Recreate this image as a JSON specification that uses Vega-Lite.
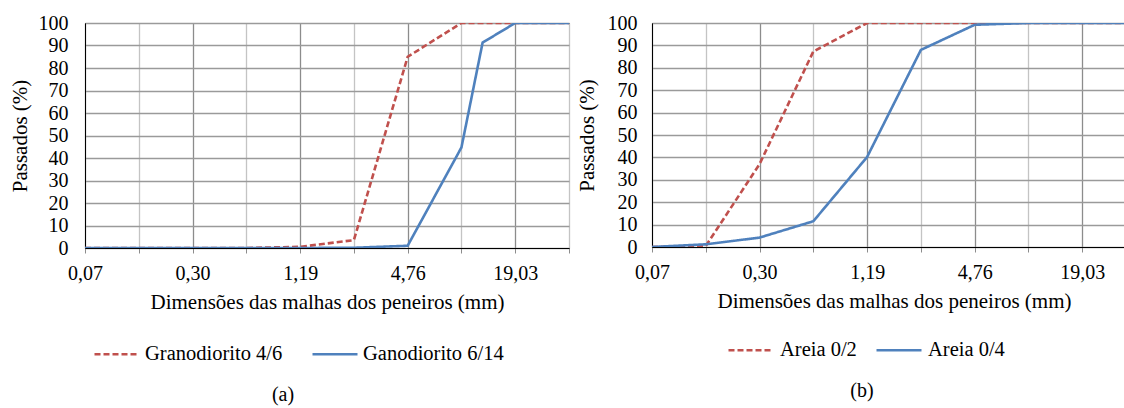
{
  "$schema": "https://vega.github.io/schema/vega-lite/v6.json",
  "padding": {"left": 8, "top": 12, "right": 0, "bottom": 0},
  "spacing": 5,
  "background": "white",
  "config": {
    "view": {"stroke": "black", "strokeWidth": 1},
    "font": "Liberation Serif",
    "style": {"guide-label": {"font": "Liberation Serif", "fill": "black"}, "guide-title": {"font": "Liberation Serif", "fill": "black"}},
    "legend": {"labelFont": "Liberation Serif", "labelFontSize": 20.5, "labelColor": "black", "labelLimit": 0},
    "title": {"font": "Liberation Serif", "fontSize": 20, "fontWeight": "normal", "color": "black"}
  },
  "data": {"values": [
    {"panel": "a", "series": "Granodiorito 4/6", "d": 0.0743, "p": 0},
    {"panel": "a", "series": "Granodiorito 4/6", "d": 0.1487, "p": 0},
    {"panel": "a", "series": "Granodiorito 4/6", "d": 0.2973, "p": 0},
    {"panel": "a", "series": "Granodiorito 4/6", "d": 0.5946, "p": 0},
    {"panel": "a", "series": "Granodiorito 4/6", "d": 1.1893, "p": 0.5},
    {"panel": "a", "series": "Granodiorito 4/6", "d": 2.3786, "p": 3.5},
    {"panel": "a", "series": "Granodiorito 4/6", "d": 4.7572, "p": 85},
    {"panel": "a", "series": "Granodiorito 4/6", "d": 9.5144, "p": 100},
    {"panel": "a", "series": "Granodiorito 4/6", "d": 19.0288, "p": 100},
    {"panel": "a", "series": "Granodiorito 4/6", "d": 38.0576, "p": 100},
    {"panel": "a", "series": "Ganodiorito 6/14", "d": 0.0743, "p": 0},
    {"panel": "a", "series": "Ganodiorito 6/14", "d": 0.1487, "p": 0},
    {"panel": "a", "series": "Ganodiorito 6/14", "d": 0.2973, "p": 0},
    {"panel": "a", "series": "Ganodiorito 6/14", "d": 0.5946, "p": 0},
    {"panel": "a", "series": "Ganodiorito 6/14", "d": 1.1893, "p": 0},
    {"panel": "a", "series": "Ganodiorito 6/14", "d": 2.3786, "p": 0.1},
    {"panel": "a", "series": "Ganodiorito 6/14", "d": 4.7572, "p": 1.0},
    {"panel": "a", "series": "Ganodiorito 6/14", "d": 9.5144, "p": 44.7},
    {"panel": "a", "series": "Ganodiorito 6/14", "d": 12.5, "p": 91.3},
    {"panel": "a", "series": "Ganodiorito 6/14", "d": 19.0288, "p": 100},
    {"panel": "a", "series": "Ganodiorito 6/14", "d": 38.0576, "p": 100},
    {"panel": "b", "series": "Areia 0/2", "d": 0.0743, "p": 0},
    {"panel": "b", "series": "Areia 0/2", "d": 0.1487, "p": 0.5},
    {"panel": "b", "series": "Areia 0/2", "d": 0.2973, "p": 37},
    {"panel": "b", "series": "Areia 0/2", "d": 0.5946, "p": 87.3},
    {"panel": "b", "series": "Areia 0/2", "d": 1.1893, "p": 100},
    {"panel": "b", "series": "Areia 0/2", "d": 2.3786, "p": 100},
    {"panel": "b", "series": "Areia 0/2", "d": 4.7572, "p": 100},
    {"panel": "b", "series": "Areia 0/2", "d": 9.5144, "p": 100},
    {"panel": "b", "series": "Areia 0/2", "d": 19.0288, "p": 100},
    {"panel": "b", "series": "Areia 0/2", "d": 38.0576, "p": 100},
    {"panel": "b", "series": "Areia 0/4", "d": 0.0743, "p": 0},
    {"panel": "b", "series": "Areia 0/4", "d": 0.1487, "p": 1.2},
    {"panel": "b", "series": "Areia 0/4", "d": 0.2973, "p": 4.2},
    {"panel": "b", "series": "Areia 0/4", "d": 0.5946, "p": 11.5},
    {"panel": "b", "series": "Areia 0/4", "d": 1.1893, "p": 40.2},
    {"panel": "b", "series": "Areia 0/4", "d": 2.3786, "p": 88},
    {"panel": "b", "series": "Areia 0/4", "d": 4.7572, "p": 99.2},
    {"panel": "b", "series": "Areia 0/4", "d": 9.5144, "p": 100},
    {"panel": "b", "series": "Areia 0/4", "d": 19.0288, "p": 100},
    {"panel": "b", "series": "Areia 0/4", "d": 38.0576, "p": 100}
  ]},
  "resolve": {
    "scale": {"x": "independent", "y": "independent", "color": "independent", "strokeDash": "independent"},
    "legend": {"color": "independent", "strokeDash": "independent"}
  },
  "hconcat": [
    {
      "width": 484, "height": 225,
      "transform": [{"filter": "datum.panel == 'a'"}],
      "title": {"text": "(a)", "orient": "bottom", "anchor": "middle", "frame": "group", "dx": -44, "offset": 20},
      "mark": {"type": "line", "strokeWidth": 2.6, "clip": true},
      "encoding": {
        "x": {"field": "d", "type": "quantitative",
          "scale": {"type": "log", "base": 2, "domain": [0.0743, 38.0576], "nice": false},
          "axis": {"title": "Dimensões das malhas dos peneiros (mm)",
            "labelFont": "Liberation Serif", "labelFontSize": 20, "labelColor": "black",
            "titleFont": "Liberation Serif", "titleFontSize": 21, "titleFontWeight": "normal", "titleColor": "black",
            "domainColor": "black", "labelOverlap": false, "labelFlush": false, "gridWidth": 1.3,
            "values": [0.0743, 0.1487, 0.2973, 0.5946, 1.1893, 2.3786, 4.7572, 9.5144, 19.0288, 38.0576],
            "labelExpr": "round(log(datum.value/0.0743)/log(2)) % 2 == 0 ? replace(format(datum.value, '.2f'), '.', ',') : ''",
            "gridColor": {"condition": {"test": "round(log(datum.value/0.0743)/log(2)) % 2 == 0", "value": "#8c8c8c"}, "value": "#c4c4c4"},
            "tickColor": "#8c8c8c", "tickSize": 5, "labelPadding": 10, "titlePadding": 8}},
        "y": {"field": "p", "type": "quantitative",
          "scale": {"domain": [0, 100], "nice": false},
          "axis": {"title": "Passados (%)", "values": [0, 10, 20, 30, 40, 50, 60, 70, 80, 90, 100],
            "labelFont": "Liberation Serif", "labelFontSize": 20, "labelColor": "black",
            "titleFont": "Liberation Serif", "titleFontSize": 21, "titleFontWeight": "normal", "titleColor": "black",
            "domainColor": "black", "labelOverlap": false, "gridWidth": 1.3,
            "ticks": false, "labelPadding": 17, "titlePadding": 8, "gridColor": "#9a9a9a"}},
        "color": {"field": "series", "type": "nominal",
          "scale": {"domain": ["Granodiorito 4/6", "Ganodiorito 6/14"], "range": ["#C0504D", "#4F81BD"]},
          "legend": {"title": null, "orient": "none", "legendX": 8, "legendY": 307, "direction": "horizontal",
            "symbolType": "stroke", "symbolSize": 2025, "symbolStrokeWidth": 2.6, "labelOffset": 4, "columnPadding": 24, "padding": 0}},
        "strokeDash": {"field": "series", "type": "nominal",
          "scale": {"domain": ["Granodiorito 4/6", "Ganodiorito 6/14"], "range": [[6, 3], [1, 0]]},
          "legend": {"title": null, "orient": "none", "legendX": 8, "legendY": 307, "direction": "horizontal",
            "symbolType": "stroke", "symbolSize": 2025, "symbolStrokeWidth": 2.6, "labelOffset": 4, "columnPadding": 24, "padding": 0}}
      }
    },
    {
      "width": 484, "height": 224,
      "transform": [{"filter": "datum.panel == 'b'"}],
      "title": {"text": "(b)", "orient": "bottom", "anchor": "middle", "frame": "group", "dx": -32, "offset": 20},
      "mark": {"type": "line", "strokeWidth": 2.6, "clip": true},
      "encoding": {
        "x": {"field": "d", "type": "quantitative",
          "scale": {"type": "log", "base": 2, "domain": [0.0743, 38.0576], "nice": false},
          "axis": {"title": "Dimensões das malhas dos peneiros (mm)",
            "labelFont": "Liberation Serif", "labelFontSize": 20, "labelColor": "black",
            "titleFont": "Liberation Serif", "titleFontSize": 21, "titleFontWeight": "normal", "titleColor": "black",
            "domainColor": "black", "labelOverlap": false, "labelFlush": false, "gridWidth": 1.3,
            "values": [0.0743, 0.1487, 0.2973, 0.5946, 1.1893, 2.3786, 4.7572, 9.5144, 19.0288, 38.0576],
            "labelExpr": "round(log(datum.value/0.0743)/log(2)) % 2 == 0 ? replace(format(datum.value, '.2f'), '.', ',') : ''",
            "gridColor": {"condition": {"test": "round(log(datum.value/0.0743)/log(2)) % 2 == 0", "value": "#8c8c8c"}, "value": "#c4c4c4"},
            "tickColor": "#8c8c8c", "tickSize": 5, "labelPadding": 10, "titlePadding": 8}},
        "y": {"field": "p", "type": "quantitative",
          "scale": {"domain": [0, 100], "nice": false},
          "axis": {"title": "Passados (%)", "values": [0, 10, 20, 30, 40, 50, 60, 70, 80, 90, 100],
            "labelFont": "Liberation Serif", "labelFontSize": 20, "labelColor": "black",
            "titleFont": "Liberation Serif", "titleFontSize": 21, "titleFontWeight": "normal", "titleColor": "black",
            "domainColor": "black", "labelOverlap": false, "gridWidth": 1.3,
            "ticks": false, "labelPadding": 15, "titlePadding": 10, "gridColor": "#9a9a9a"}},
        "color": {"field": "series", "type": "nominal",
          "scale": {"domain": ["Areia 0/2", "Areia 0/4"], "range": ["#C0504D", "#4F81BD"]},
          "legend": {"title": null, "orient": "none", "legendX": 75, "legendY": 303, "direction": "horizontal",
            "symbolType": "stroke", "symbolSize": 2025, "symbolStrokeWidth": 2.6, "labelOffset": 5, "columnPadding": 14, "padding": 0}},
        "strokeDash": {"field": "series", "type": "nominal",
          "scale": {"domain": ["Areia 0/2", "Areia 0/4"], "range": [[6, 3], [1, 0]]},
          "legend": {"title": null, "orient": "none", "legendX": 75, "legendY": 303, "direction": "horizontal",
            "symbolType": "stroke", "symbolSize": 2025, "symbolStrokeWidth": 2.6, "labelOffset": 5, "columnPadding": 14, "padding": 0}}
      }
    }
  ]
}
